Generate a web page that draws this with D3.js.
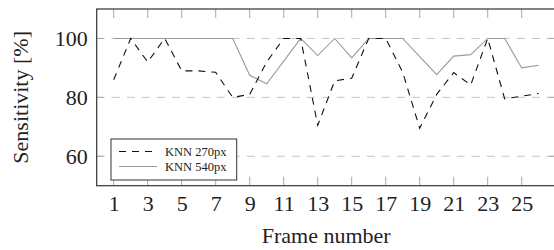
<!DOCTYPE html>
<html>
<head>
<meta charset="utf-8">
<script src="https://cdn.jsdelivr.net/npm/d3@7"></script>
<style>
  html, body { margin: 0; padding: 0; background: #fff; }
  svg { display: block; }
  text { font-family: "Liberation Serif", "Times New Roman", serif; fill: #222; }
</style>
</head>
<body>
<svg id="chart" width="554" height="250"></svg>
<script>
const frames = d3.range(1, 27);
const knn270 = [86, 100, 92, 100, 89, 89, 88.5, 80, 81, 92, 100, 100, 70.5, 85.6, 86.5, 100, 100, 88.5, 69.5, 81, 88.4, 84.2, 100, 79.5, 80.4, 81.3];
const knn540 = [100, 100, 100, 100, 100, 100, 100, 100, 87.5, 84.6, 92.3, 100, 94.2, 100, 93.4, 100, 100, 100, 93.8, 87.7, 94, 94.5, 100, 100, 90, 90.9];
const xTicks = [1, 3, 5, 7, 9, 11, 13, 15, 17, 19, 21, 23, 25];
const yTicks = [60, 80, 100];
const seriesNames = ["KNN 270px", "KNN 540px"];
const xTitle = "Frame number";
const yTitle = "Sensitivity [%]";

const svg = d3.select("#chart");
const L = 96.7, R = 555.7, T = 9, B = 185.7;
const x = d3.scaleLinear().domain([0, 27]).range([L, R]);
const y = d3.scaleLinear().domain([50, 110]).range([B, T]);

// grid
svg.append("g").selectAll("line").data(yTicks).join("line")
  .attr("x1", L).attr("x2", R)
  .attr("y1", d => y(d)).attr("y2", d => y(d))
  .attr("stroke", "#c4c4c4").attr("stroke-width", 1)
  .attr("stroke-dasharray", "8,7");

// ticks (inside)
const tickLen = 9, tickCol = "#a8a8a8";
const tg = svg.append("g").attr("stroke", tickCol).attr("stroke-width", 1);
xTicks.forEach(t => {
  tg.append("line").attr("x1", x(t)).attr("x2", x(t)).attr("y1", B).attr("y2", B - tickLen);
  tg.append("line").attr("x1", x(t)).attr("x2", x(t)).attr("y1", T).attr("y2", T + tickLen);
});
yTicks.forEach(t => {
  tg.append("line").attr("x1", L).attr("x2", L + 7).attr("y1", y(t)).attr("y2", y(t));
  tg.append("line").attr("x1", R).attr("x2", R - 7).attr("y1", y(t)).attr("y2", y(t));
});

// lines
const line = d3.line().x((d, i) => x(frames[i])).y(d => y(d));
svg.append("path").datum(knn540).attr("d", line)
  .attr("fill", "none").attr("stroke", "#9a9a9a").attr("stroke-width", 1.1);
svg.append("path").datum(knn270).attr("d", line)
  .attr("fill", "none").attr("stroke", "#111").attr("stroke-width", 1.1)
  .attr("stroke-dasharray", "7,6");

// frame
svg.append("rect").attr("x", L).attr("y", T).attr("width", R - L).attr("height", B - T)
  .attr("fill", "none").attr("stroke", "#333").attr("stroke-width", 1.2);

// axes labels via d3 axes (no domain / ticks drawn, only text)
const xAxis = d3.axisBottom(x).tickValues(xTicks).tickSize(0).tickPadding(0).tickFormat(d3.format("d"));
const gx = svg.append("g").attr("transform", `translate(0,${B})`).call(xAxis);
gx.select(".domain").remove();
gx.selectAll("text").attr("y", 25).attr("dy", null)
  .style("font-family", '"Liberation Serif", serif').style("font-size", "22px").attr("fill", "#222");

const yAxis = d3.axisLeft(y).tickValues(yTicks).tickSize(0).tickPadding(0).tickFormat(d3.format("d"));
const gy = svg.append("g").attr("transform", `translate(${L - 9},0)`).call(yAxis);
gy.select(".domain").remove();
gy.selectAll("text").attr("dy", "0.34em")
  .style("font-family", '"Liberation Serif", serif').style("font-size", "22px").attr("fill", "#222");

svg.append("text").attr("x", (L + R) / 2).attr("y", 243).attr("text-anchor", "middle")
  .style("font-size", "22px").text(xTitle);
svg.append("text").attr("transform", `translate(28,${(T + B) / 2}) rotate(-90)`)
  .attr("text-anchor", "middle").style("font-size", "22px").text(yTitle);

// legend
const lg = svg.append("g");
lg.append("rect").attr("x", 111).attr("y", 139).attr("width", 125.7).attr("height", 41)
  .attr("fill", "#fff").attr("stroke", "#333").attr("stroke-width", 1);
const legRows = [
  { name: seriesNames[0], stroke: "#111", dash: "7,6", yy: 151.5 },
  { name: seriesNames[1], stroke: "#9a9a9a", dash: null, yy: 166.5 }
];
legRows.forEach(r => {
  lg.append("line").attr("x1", 119).attr("x2", 157).attr("y1", r.yy).attr("y2", r.yy)
    .attr("stroke", r.stroke).attr("stroke-width", 1.1).attr("stroke-dasharray", r.dash);
  lg.append("text").attr("x", 165).attr("y", r.yy + 4.3).style("font-size", "12.5px").text(r.name);
});
</script>
</body>
</html>
